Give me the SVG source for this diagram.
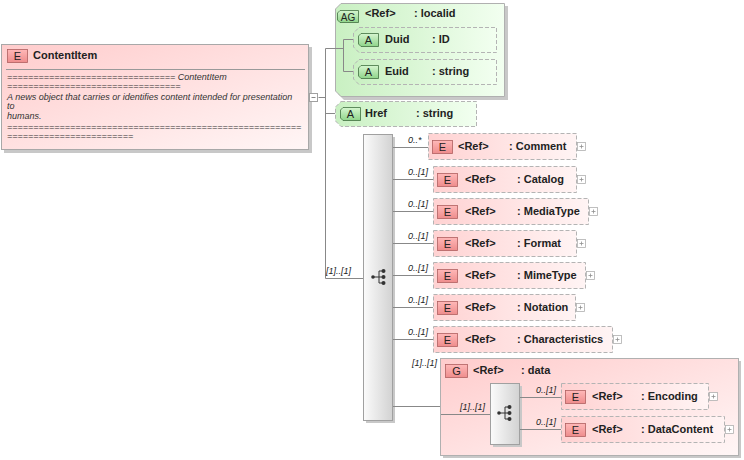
<svg xmlns="http://www.w3.org/2000/svg" width="744" height="460" viewBox="0 0 744 460">
<defs>
<linearGradient id="eg" x1="0" y1="0" x2="1" y2="0"><stop offset="0" stop-color="#ffd2d2"/><stop offset="1" stop-color="#fff4f4"/></linearGradient>
<linearGradient id="eg2" x1="0" y1="0" x2="1" y2="1"><stop offset="0" stop-color="#ffcccc"/><stop offset="1" stop-color="#fff6f6"/></linearGradient>
<linearGradient id="ag" x1="0" y1="0" x2="1" y2="0"><stop offset="0" stop-color="#c9f0c2"/><stop offset="1" stop-color="#f2fff0"/></linearGradient>
<linearGradient id="ig" x1="0" y1="0" x2="0" y2="1"><stop offset="0" stop-color="#ffb8b8"/><stop offset="1" stop-color="#ee8c8c"/></linearGradient>
<linearGradient id="iag" x1="0" y1="0" x2="0" y2="1"><stop offset="0" stop-color="#d6f6d0"/><stop offset="1" stop-color="#8fd48a"/></linearGradient>
<linearGradient id="sg" x1="0" y1="0" x2="1" y2="0"><stop offset="0" stop-color="#fbfbfb"/><stop offset="1" stop-color="#d2d2d2"/></linearGradient>
<g id="plus"><rect x="0" y="0" width="8" height="8" fill="#fff" stroke="#b0b0b0" stroke-width="0.8"/><path d="M2,4H6M4,2V6" stroke="#909090" stroke-width="0.8"/></g>
<g id="seqicon"><circle cx="-5" cy="0" r="1.8" fill="#333"/><path d="M-5,0H1M1,-6V6M1,-6H5M1,0H5M1,6H5" stroke="#333" stroke-width="1" fill="none"/><circle cx="5.5" cy="-6" r="2" fill="#333"/><circle cx="5.5" cy="0" r="2" fill="#333"/><circle cx="5.5" cy="6" r="2" fill="#333"/></g>
</defs>
<style>
text{font-family:"Liberation Sans",Arial,sans-serif;fill:#222}
.b{font-weight:bold;font-size:11px}
.m{font-style:italic;font-size:9px}
.d{font-style:italic;font-size:9px;fill:#333}
.ic{font-size:11px;text-anchor:middle;fill:#222}
.eb{fill:url(#eg);stroke:#b4b4b4;stroke-dasharray:4,2;stroke-width:1}
.ei{fill:url(#ig);stroke:#b06060;stroke-width:0.8}
.ab{fill:url(#ag);stroke:#b4b4b4;stroke-dasharray:4,2;stroke-width:1}
.ai{fill:url(#iag);stroke:#407040;stroke-width:0.8}
.sh{fill:#c8c8c8}
.ln{stroke:#888;stroke-width:1;fill:none}
.sq{fill:url(#sg);stroke:#a0a0a0;stroke-width:1}
</style>
<g id="ContentItem">
<rect class="sh" x="4" y="47" width="308" height="106"/>
<rect x="1.5" y="44.5" width="307" height="105" fill="url(#eg2)" stroke="#a8a8a8"/>
<rect class="ei" x="7.5" y="49.5" width="20" height="13"/>
<text class="ic" x="17.5" y="60">E</text>
<text class="b" x="33" y="59">ContentItem</text>
<line x1="6" y1="69.5" x2="305" y2="69.5" stroke="#999"/>
<text class="d" x="7" y="80">================================ ContentItem</text>
<text class="d" x="7" y="89">=================================</text>
<text class="d" x="7" y="100">A news object that carries or identifies content intended for presentation</text>
<text class="d" x="7" y="109">to</text>
<text class="d" x="7" y="119">humans.</text>
<text class="d" x="7" y="130">========================================================</text>
<text class="d" x="7" y="139">========================</text>
<rect x="309.5" y="93.5" width="8" height="8" fill="#fff" stroke="#a0a0a0"/>
<path d="M311.5,97.5H315.5" stroke="#888"/>
</g>
<g id="localid">
<path class="sh" d="M344,6H508V100H344L338,94V12Z"/>
<path d="M341,3.5H504.5V96.5H341L335.5,91V9Z" fill="url(#ag)" stroke="#b0b0b0"/>
<path class="ai" d="M340,10.5H358.5V22.5H340L337.5,20V13Z"/>
<text class="ic" x="348" y="20.5" style="font-size:10px">AG</text>
<text class="b" x="365" y="17">&lt;Ref&gt;</text>
<text class="b" x="414" y="17">: localid</text>
</g>
<g id="Duid">
<path class="ab" d="M359,27.5H496.5V52.5H359L353.5,47V33Z"/>
<path class="ai" d="M361,33.5H378.5V46.5H361L358.5,44V36Z"/>
<text class="ic" x="368.5" y="44">A</text>
<text class="b" x="385" y="43">Duid</text>
<text class="b" x="432" y="43">: ID</text>
</g>
<g id="Euid">
<path class="ab" d="M359,59.5H496.5V84.5H359L353.5,79V65Z"/>
<path class="ai" d="M361,65.5H378.5V78.5H361L358.5,76V68Z"/>
<text class="ic" x="368.5" y="76">A</text>
<text class="b" x="385" y="75">Euid</text>
<text class="b" x="432" y="75">: string</text>
</g>
<g id="Href">
<path class="ab" d="M341,101.5H476.5V126.5H341L335.5,121V107Z"/>
<path class="ai" d="M343,107.5H360.5V120.5H343L340.5,118V110Z"/>
<text class="ic" x="350.5" y="118">A</text>
<text class="b" x="365" y="117">Href</text>
<text class="b" x="416" y="117">: string</text>
</g>
<g id="sequence">
<rect class="sh" x="366" y="137" width="29" height="286"/>
<rect class="sq" x="363.5" y="134.5" width="29" height="286"/>
<use href="#seqicon" x="378" y="277"/>
</g>
<g id="Comment">
<rect class="eb" x="428.5" y="133.5" width="148" height="26"/>
<rect class="ei" x="432.5" y="140.5" width="20" height="13"/>
<text class="ic" x="442.5" y="151">E</text>
<text class="b" x="458" y="150">&lt;Ref&gt;</text>
<text class="b" x="509" y="150">: Comment</text>
<use href="#plus" x="577.5" y="142.5"/>
</g>
<g id="Catalog">
<rect class="eb" x="433.5" y="166.5" width="143" height="26"/>
<rect class="ei" x="437.5" y="173.5" width="20" height="13"/>
<text class="ic" x="447.5" y="184">E</text>
<text class="b" x="465" y="183">&lt;Ref&gt;</text>
<text class="b" x="517" y="183">: Catalog</text>
<use href="#plus" x="577.5" y="175.5"/>
</g>
<g id="MediaType">
<rect class="eb" x="433.5" y="198.5" width="155" height="26"/>
<rect class="ei" x="437.5" y="205.5" width="20" height="13"/>
<text class="ic" x="447.5" y="216">E</text>
<text class="b" x="465" y="215">&lt;Ref&gt;</text>
<text class="b" x="517" y="215">: MediaType</text>
<use href="#plus" x="589.5" y="207.5"/>
</g>
<g id="Format">
<rect class="eb" x="433.5" y="230.5" width="143" height="26"/>
<rect class="ei" x="437.5" y="237.5" width="20" height="13"/>
<text class="ic" x="447.5" y="248">E</text>
<text class="b" x="465" y="247">&lt;Ref&gt;</text>
<text class="b" x="517" y="247">: Format</text>
<use href="#plus" x="577.5" y="239.5"/>
</g>
<g id="MimeType">
<rect class="eb" x="433.5" y="262.5" width="152" height="26"/>
<rect class="ei" x="437.5" y="269.5" width="20" height="13"/>
<text class="ic" x="447.5" y="280">E</text>
<text class="b" x="465" y="279">&lt;Ref&gt;</text>
<text class="b" x="517" y="279">: MimeType</text>
<use href="#plus" x="586.5" y="271.5"/>
</g>
<g id="Notation">
<rect class="eb" x="433.5" y="294.5" width="142" height="26"/>
<rect class="ei" x="437.5" y="301.5" width="20" height="13"/>
<text class="ic" x="447.5" y="312">E</text>
<text class="b" x="465" y="311">&lt;Ref&gt;</text>
<text class="b" x="517" y="311">: Notation</text>
<use href="#plus" x="576.5" y="303.5"/>
</g>
<g id="Characteristics">
<rect class="eb" x="433.5" y="326.5" width="179" height="26"/>
<rect class="ei" x="437.5" y="333.5" width="20" height="13"/>
<text class="ic" x="447.5" y="344">E</text>
<text class="b" x="465" y="343">&lt;Ref&gt;</text>
<text class="b" x="517" y="343">: Characteristics</text>
<use href="#plus" x="613.5" y="335.5"/>
</g>
<g id="data">
<rect class="sh" x="443" y="361" width="298" height="97"/>
<rect x="440.5" y="358.5" width="298" height="97" fill="url(#eg2)" stroke="#b0b0b0"/>
<rect class="ei" x="445.5" y="364.5" width="22" height="13"/>
<text class="ic" x="456.5" y="375">G</text>
<text class="b" x="473" y="374">&lt;Ref&gt;</text>
<text class="b" x="521" y="374">: data</text>
</g>
<g id="dataSequence">
<rect class="sh" x="493" y="386" width="29" height="61"/>
<rect class="sq" x="490.5" y="383.5" width="29" height="61"/>
<use href="#seqicon" x="504" y="413"/>
</g>
<g id="Encoding">
<rect class="eb" x="561.5" y="383.5" width="147" height="26"/>
<rect class="ei" x="565.5" y="390.5" width="20" height="13"/>
<text class="ic" x="575.5" y="401">E</text>
<text class="b" x="592" y="400">&lt;Ref&gt;</text>
<text class="b" x="641" y="400">: Encoding</text>
<use href="#plus" x="709.5" y="392.5"/>
</g>
<g id="DataContent">
<rect class="eb" x="561.5" y="416.5" width="163" height="26"/>
<rect class="ei" x="565.5" y="423.5" width="20" height="13"/>
<text class="ic" x="575.5" y="434">E</text>
<text class="b" x="592" y="433">&lt;Ref&gt;</text>
<text class="b" x="641" y="433">: DataContent</text>
<use href="#plus" x="725.5" y="425.5"/>
</g>
<g id="connectors">
<path class="ln" d="M318.5,97.5H325.5M325.5,48.5V278.5M325.5,48.5H343.5M343.5,39.5V71.5M343.5,39.5H353M343.5,71.5H353M325.5,113.5H335M325.5,278.5H363"/>
<path class="ln" d="M393,147.5H428M393,179.5H433M393,211.5H433M393,243.5H433M393,275.5H433M393,307.5H433M393,339.5H433M393,406.5H440M441,414.5H490M520,397.5H561M520,429.5H561"/>
<text class="m" x="326" y="274">[1]..[1]</text>
<text class="m" x="408" y="143">0..*</text>
<text class="m" x="408" y="175">0..[1]</text>
<text class="m" x="408" y="207">0..[1]</text>
<text class="m" x="408" y="239">0..[1]</text>
<text class="m" x="408" y="271">0..[1]</text>
<text class="m" x="408" y="303">0..[1]</text>
<text class="m" x="408" y="335">0..[1]</text>
<text class="m" x="412" y="366">[1]..[1]</text>
<text class="m" x="460" y="410">[1]..[1]</text>
<text class="m" x="536" y="393">0..[1]</text>
<text class="m" x="536" y="425">0..[1]</text>
</g>
</svg>
